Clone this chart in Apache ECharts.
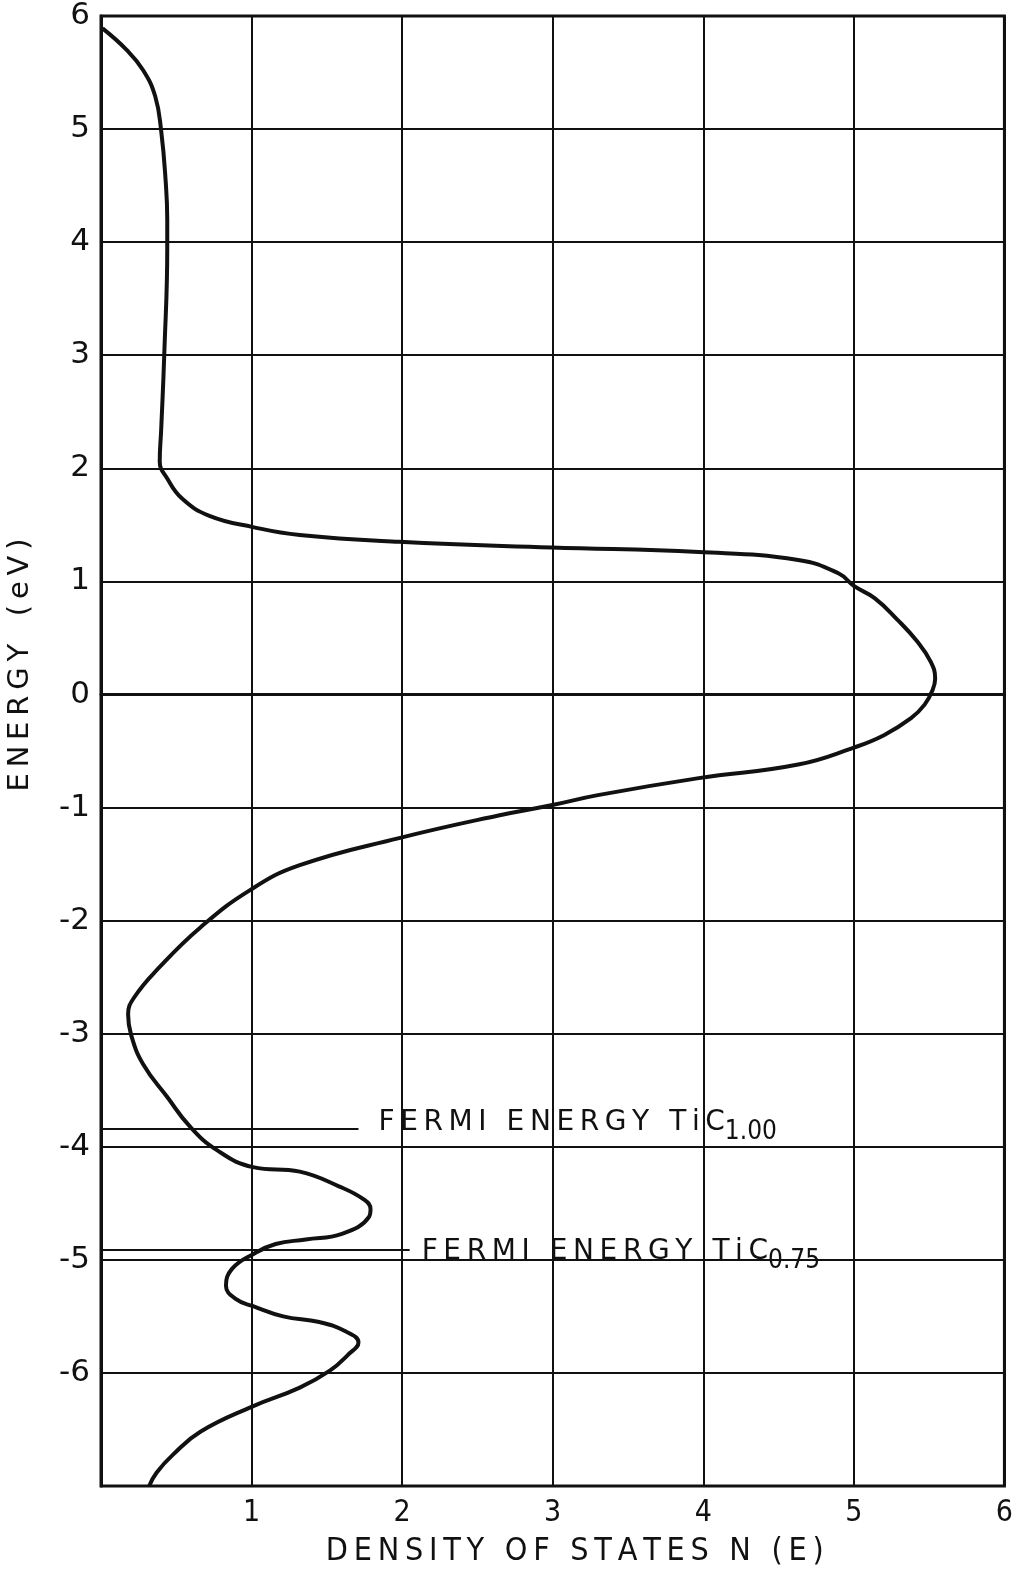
<!DOCTYPE html>
<html>
<head>
<meta charset="utf-8">
<title>Density of states TiC</title>
<script src="https://cdn.jsdelivr.net/npm/echarts@6/dist/echarts.min.js"></script>
<style>
  html, body { margin: 0; padding: 0; background: #fff; }
  #chart { width: 1016px; height: 1573px; }
</style>
</head>
<body>
<div id="chart"></div>
<script>
// curve, top to bottom: energy (eV) and N(E)
const energy = [5.89, 5.70, 5.52, 5.29, 4.98, 4.53, 4.20, 3.96, 3.00, 2.35, 2.06,
  1.91, 1.73, 1.58, 1.48, 1.41, 1.35, 1.30, 1.26, 1.19, 1.07, 0.96, 0.85,
  0.66, 0.47, 0.29, 0.14, 0.03, -0.09, -0.21, -0.36, -0.47, -0.62, -0.74,
  -0.89, -0.98, -1.07, -1.27, -1.51, -1.73, -2.06, -2.41, -2.68, -2.83,
  -3.01, -3.27, -3.56, -3.82, -4.03, -4.18, -4.22, -4.35, -4.47, -4.55,
  -4.62, -4.77, -4.82, -4.86, -4.95, -5.08, -5.23, -5.35, -5.41, -5.50,
  -5.55, -5.63, -5.73, -5.84, -5.98, -6.13, -6.30, -6.52, -6.72, -6.88, -7.00];
const dos = [0.01, 0.17, 0.28, 0.36, 0.40, 0.43, 0.44, 0.44, 0.42, 0.40, 0.39,
  0.44, 0.54, 0.72, 1.01, 1.32, 1.98, 2.99, 3.97, 4.63, 4.90, 5.00, 5.14,
  5.29, 5.42, 5.51, 5.54, 5.52, 5.47, 5.38, 5.20, 5.00, 4.63, 3.97,
  3.30, 2.99, 2.64, 1.98, 1.32, 0.99, 0.66, 0.39, 0.22, 0.18,
  0.20, 0.28, 0.44, 0.59, 0.77, 1.01, 1.32, 1.58, 1.75, 1.79,
  1.78, 1.60, 1.36, 1.16, 1.01, 0.87, 0.83, 0.90, 1.01, 1.21,
  1.45, 1.62, 1.71, 1.64, 1.52, 1.32, 1.00, 0.66, 0.48, 0.37, 0.32];

// Fermi levels
const fermiEnergy = [-3.84, -4.91];
const fermiLineEnd = [1.71, 2.05];
const fermiSub = ['1.00', '0.75'];

const xTicks = ['', '1', '2', '3', '4', '5', '6'];
const yTicks = ['-7', '-6', '-5', '-4', '-3', '-2', '-1', '0', '1', '2', '3', '4', '5', '6'];

const ink = '#111';
const font = "'DejaVu Sans', sans-serif";
const narrow = "'DejaVu Sans Condensed', 'Liberation Sans Narrow', sans-serif";

// hand lettering is widely spaced; thin spaces between letters mimic that
const spaced = (s) => s.split('').join('\u2009');

const chart = echarts.init(document.getElementById('chart'), null, { renderer: 'canvas' });

const curve = energy.map((e, i) => [dos[i], e]);

const fermiLines = fermiEnergy.map((e, i) => ([
  { coord: [0, e] },
  {
    coord: [fermiLineEnd[i], e],
    label: {
      show: true,
      position: 'end',
      distance: i === 0 ? 20 : 12,
      offset: [0, i === 0 ? -6 : 2],
      formatter: '{a|' + spaced('FERMI ENERGY TiC') + '}{b|' + fermiSub[i] + '}',
      rich: {
        a: { fontSize: 28, fontFamily: font, color: ink, lineHeight: 38 },
        b: { fontSize: 26, fontFamily: narrow, color: ink, padding: [20, 0, 0, 0], lineHeight: 38 }
      }
    }
  }
]));

chart.setOption({
  animation: false,
  backgroundColor: '#fff',
  grid: { left: 101, right: 9, top: 16, bottom: 83, show: true, borderColor: ink, borderWidth: 3 },
  xAxis: {
    type: 'value', min: 0, max: 6, interval: 1,
    name: spaced('DENSITY OF STATES N (E)'),
    nameLocation: 'middle', nameGap: 50,
    nameTextStyle: { fontSize: 32, fontFamily: narrow, color: ink, padding: [0, 0, 0, 44] },
    axisLine: { show: true, lineStyle: { color: ink, width: 3 } },
    axisTick: { show: false },
    axisLabel: {
      fontSize: 30, fontFamily: narrow, color: ink, margin: 12,
      formatter: (v) => xTicks[Math.round(v)]
    },
    splitLine: { show: true, lineStyle: { color: ink, width: 2 } }
  },
  yAxis: {
    type: 'value', min: -7, max: 6, interval: 1,
    axisLine: { show: true, lineStyle: { color: ink, width: 3 } },
    axisTick: { show: false },
    axisLabel: {
      fontSize: 31, fontFamily: font, color: ink, margin: 11,
      formatter: (v) => (v === -7 ? '' : yTicks[Math.round(v) + 7])
    },
    splitLine: { show: true, lineStyle: { color: ink, width: 2 } }
  },
  graphic: [{
    type: 'text',
    x: 20, y: 665,
    rotation: Math.PI / 2,
    style: {
      text: spaced('ENERGY (eV)').replace(/\u2009 \u2009/, '   '),
      fontSize: 29, fontFamily: font, fill: ink,
      align: 'center', verticalAlign: 'middle'
    }
  }],
  series: [{
    type: 'line',
    data: curve,
    smooth: 0.45,
    showSymbol: false,
    symbol: 'none',
    lineStyle: { color: ink, width: 4 },
    markLine: {
      silent: true,
      symbol: ['none', 'none'],
      lineStyle: { color: ink, width: 2, type: 'solid' },
      data: fermiLines
    }
  }]
});
</script>
</body>
</html>
